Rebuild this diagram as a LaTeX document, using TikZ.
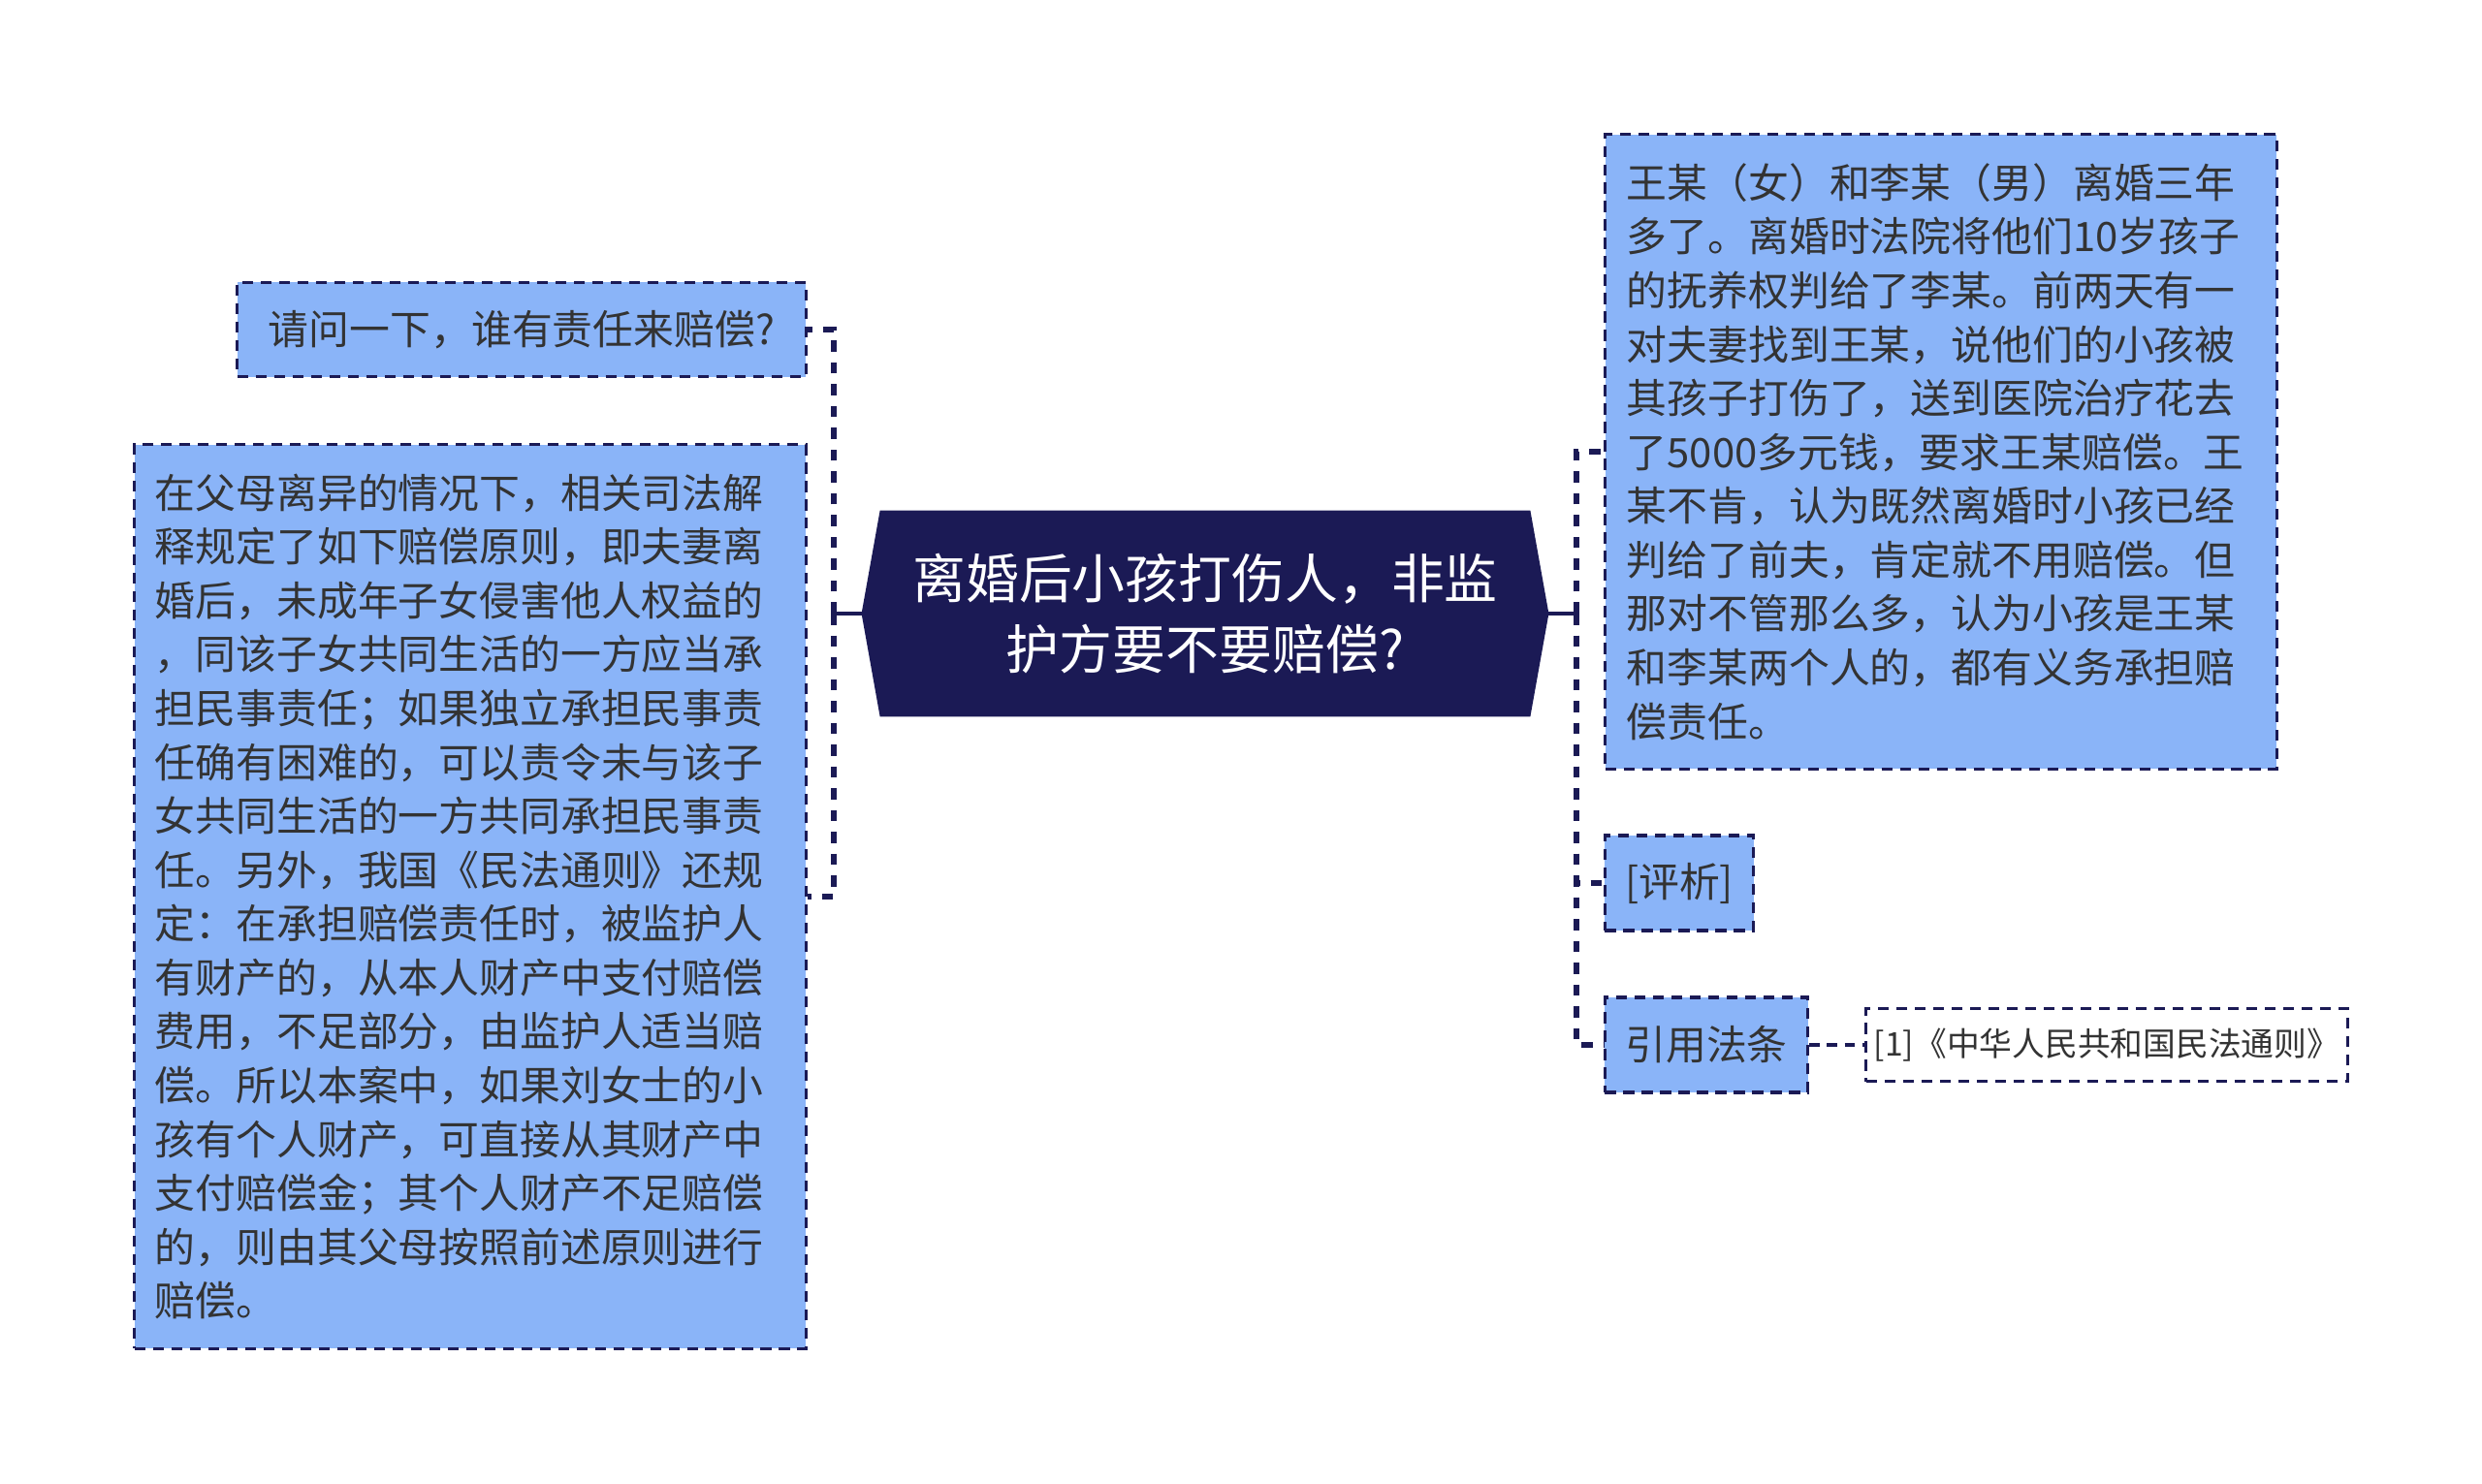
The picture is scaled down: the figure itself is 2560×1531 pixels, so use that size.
\documentclass[tikz,border=0pt]{standalone}
\usepackage{fontspec}
\setmainfont{Noto Sans CJK SC}
\usetikzlibrary{backgrounds}
\definecolor{navy}{HTML}{1B1A55}
\definecolor{topicblue}{HTML}{8AB4F8}
\definecolor{inktext}{HTML}{333333}
\tikzset{
  rootbox/.style={inner sep=0pt, minimum width=7.07cm, minimum height=2.11cm, align=center, text=white, font=\fontsize{15.6}{20.8}\selectfont},
  topic/.style={draw=navy, fill=topicblue, line width=0.9pt, dash pattern=on 3.2pt off 2.2pt, text=inktext, inner sep=0pt, font=\fontsize{11.9}{15.8}\selectfont},
  note/.style={draw=navy, fill=white, line width=0.8pt, dash pattern=on 3.2pt off 2.2pt, text=inktext, inner sep=0pt, font=\fontsize{9.6}{12}\selectfont},
  link/.style={draw=navy, line width=1.5pt, dash pattern=on 3.3pt off 3.1pt},
  stem/.style={draw=navy, line width=1pt},
  leaflink/.style={draw=navy, line width=0.9pt, dash pattern=on 3pt off 2.2pt},
}
\begin{document}
\begin{tikzpicture}[x=0.01cm, y=-0.01cm]
    \useasboundingbox (0, 0) rectangle (2560, 1531);
    % central topic
    \node[rootbox] (root) at (1243, 633) {离婚后小孩打伤人，非监\\护方要不要赔偿?};
    \begin{pgfonlayer}{background}
    \fill[navy] (root.west) -- ([xshift=0.19cm]root.north west) -- ([xshift=-0.19cm]root.north east)
        -- (root.east) -- ([xshift=-0.19cm]root.south east) -- ([xshift=0.19cm]root.south west) -- cycle;
    \end{pgfonlayer}
    % left side
    \node[topic, minimum width=5.86cm, minimum height=0.97cm] (ask) at (538, 340) {请问一下，谁有责任来赔偿?};
    \node[topic, minimum width=6.92cm, minimum height=9.32cm, text width=6.5cm, align=left] (law) at (485, 925) {在父母离异的情况下，相关司法解\\释规定了如下赔偿原则，即夫妻离\\婚后，未成年子女侵害他人权益的\\，同该子女共同生活的一方应当承\\担民事责任；如果独立承担民事责\\任确有困难的，可以责令未与该子\\女共同生活的一方共同承担民事责\\任。另外，我国《民法通则》还规\\定：在承担赔偿责任时，被监护人\\有财产的，从本人财产中支付赔偿\\费用，不足部分，由监护人适当赔\\偿。所以本案中，如果刘女士的小\\孩有个人财产，可直接从其财产中\\支付赔偿金；其个人财产不足赔偿\\的，则由其父母按照前述原则进行\\赔偿。};
    % right side
    \node[topic, minimum width=6.92cm, minimum height=6.54cm, text width=6.48cm, align=left] (story) at (2002, 466) {王某（女）和李某（男）离婚三年\\多了。离婚时法院将他们10岁孩子\\的抚养权判给了李某。前两天有一\\对夫妻找到王某，说他们的小孩被\\其孩子打伤了，送到医院治疗花去\\了5000多元钱，要求王某赔偿。王\\某不肯，认为既然离婚时小孩已经\\判给了前夫，肯定就不用赔偿。但\\那对不管那么多，认为小孩是王某\\和李某两个人的，都有义务承担赔\\偿责任。};
    \node[topic, minimum width=1.53cm, minimum height=0.98cm] (review) at (1732, 911) {[评析]};
    \node[topic, minimum width=2.09cm, minimum height=0.98cm] (cite) at (1760, 1078) {引用法条};
    \node[note, minimum width=4.96cm, minimum height=0.75cm] (ref) at (2173, 1078) {[1]《中华人民共和国民法通则》};
    % trunks
    \coordinate (ltrunk) at (860, 633);
    \coordinate (rtrunk) at (1626, 633);
    % connectors
    \draw[stem] (root.west) -- (ltrunk);
    \draw[link] (ltrunk) |- (ask.east);
    \draw[link] (ltrunk) |- (law.east);
    \draw[stem] (root.east) -- (rtrunk);
    \draw[link] (rtrunk) |- (story.west);
    \draw[link] (rtrunk) |- (review.west);
    \draw[link] (rtrunk) |- (cite.west);
    \draw[leaflink] (cite.east) -- (ref.west);
\end{tikzpicture}
\end{document}
